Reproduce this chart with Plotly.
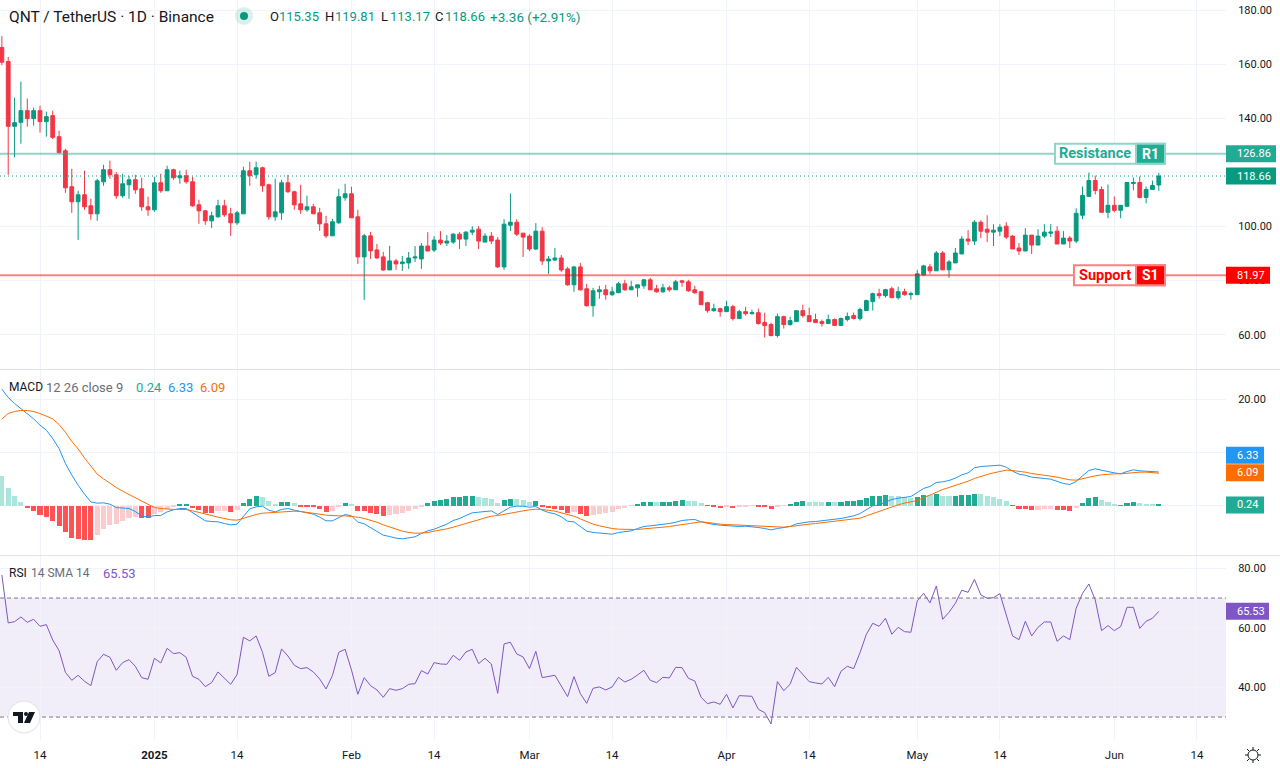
import pandas as pd
import plotly.graph_objects as go

WIDTH = 1280
HEIGHT = 768
FONT = "Roboto"

GREEN = "#089981"
RED = "#F23645"
TEAL = "#22AB94"
BLUE = "#2196F3"
ORANGE = "#FF6D00"
PURPLE = "#7E57C2"
TEXT = "#131722"
GREY = "#6A6D78"
GRID = "#F0F3FA"
SEPARATOR = "#E0E3EB"

# daily candles, 2024-12-08 to 2025-06-08 (one row per month)
opens = [
    166.17, 160.99, 137.04, 138.52, 142.84, 139.88, 142.84, 138.77, 140.99, 133.21, 128.02, 114.69, 109.14, 111.73, 107.65, 104.69, 116.54, 120.99, 119.14, 111.36, 115.43, 117.28, 113.95, 107.28,
    106.17, 116.17, 113.21, 120.99, 118.02, 118.77, 116.54, 108.02, 105.80, 102.10, 103.58, 107.65, 104.69, 101.36, 104.69, 120.62, 119.14, 121.73, 115.43, 103.58, 105.06, 116.17, 112.84, 108.40, 106.17, 107.28, 105.06, 100.99, 96.54, 101.36, 110.62,
    112.10, 103.58, 88.77, 96.54, 91.36, 88.77, 83.95, 87.28, 86.28, 86.53, 88.36, 88.00, 92.77, 91.30, 94.98, 93.88, 94.24, 97.18, 95.34, 97.92, 99.02, 94.24, 96.45, 94.98, 85.06, 100.49, 101.59, 97.55,
    96.45, 91.67, 98.29, 87.26, 87.63, 88.36, 84.32, 78.44, 85.06, 76.97, 70.72, 75.87, 76.60, 74.77, 75.50, 78.81, 76.60, 77.34, 78.07, 80.28, 76.97, 75.87, 77.34, 76.60, 79.91, 79.54, 76.60, 75.87, 71.83, 68.89, 69.62,
    68.52, 70.36, 65.95, 68.52, 67.78, 68.15, 64.48, 63.74, 59.70, 66.68, 63.74, 64.84, 68.89, 67.05, 65.58, 64.84, 64.11, 65.63, 63.43, 65.63, 67.10, 65.99, 68.93, 72.23, 75.17, 74.43, 77.00, 73.70, 75.90, 74.80,
    74.80, 82.14, 85.08, 83.61, 90.21, 83.98, 86.54, 89.85, 95.35, 94.62, 101.59, 99.02, 97.92, 98.29, 100.12, 96.45, 92.05, 90.95, 96.82, 93.15, 96.45, 97.55, 98.29, 93.52, 95.72, 94.62, 104.16, 111.13, 117.00, 113.70, 105.26,
    107.83, 105.99, 107.46, 115.90, 116.27, 110.76, 113.70, 115.35,
]
highs = [
    170.37, 162.72, 147.66, 153.58, 147.29, 143.95, 144.69, 142.47, 142.84, 135.43, 128.77, 121.36, 113.21, 120.62, 110.25, 117.65, 122.84, 124.32, 120.12, 119.51, 118.77, 119.14, 118.02, 110.99,
    118.40, 119.51, 122.47, 121.36, 120.62, 120.99, 118.40, 109.88, 106.17, 105.43, 109.88, 109.88, 106.91, 105.80, 122.10, 123.95, 123.95, 122.10, 115.80, 117.65, 117.28, 119.14, 113.21, 115.43, 111.36, 108.40, 106.91, 103.95, 102.84, 113.95, 115.80,
    114.69, 106.17, 97.28, 98.02, 93.58, 90.62, 92.84, 88.02, 89.10, 90.57, 92.77, 93.88, 97.92, 96.45, 98.29, 96.82, 97.55, 97.92, 98.29, 100.12, 100.12, 97.55, 97.92, 96.08, 102.70, 112.25, 102.70, 97.55,
    97.18, 101.23, 99.76, 89.10, 92.04, 89.47, 85.06, 85.42, 86.53, 78.81, 77.34, 78.07, 78.44, 77.71, 79.54, 80.28, 79.91, 78.44, 80.65, 81.01, 78.44, 78.81, 78.07, 80.28, 80.28, 80.28, 78.07, 76.24, 72.19, 71.46, 69.99,
    72.56, 71.09, 69.25, 70.36, 69.25, 69.62, 68.15, 64.48, 67.78, 67.05, 66.68, 68.89, 71.09, 69.99, 67.78, 65.58, 67.42, 65.99, 66.36, 68.20, 68.20, 70.03, 72.97, 75.54, 77.00, 77.00, 77.74, 77.74, 77.00, 75.90,
    83.98, 85.81, 86.18, 90.95, 90.95, 87.65, 92.05, 96.45, 98.65, 102.32, 102.32, 104.16, 100.86, 100.86, 101.59, 96.82, 93.88, 99.39, 96.82, 99.02, 100.86, 100.86, 100.12, 98.29, 96.45, 106.73, 114.80, 119.94, 118.84, 114.80, 115.53,
    111.13, 107.83, 116.27, 118.10, 118.47, 114.80, 117.00, 119.81,
]
lows = [
    159.63, 119.14, 125.56, 130.62, 136.91, 137.28, 134.69, 133.21, 132.35, 127.28, 112.47, 105.06, 95.06, 106.17, 102.47, 102.10, 115.06, 117.65, 110.25, 110.62, 110.25, 112.10, 105.80, 103.95,
    105.43, 112.47, 113.21, 117.28, 115.80, 115.80, 107.28, 100.99, 100.62, 99.51, 103.21, 103.58, 96.54, 100.62, 104.69, 115.06, 117.65, 112.84, 102.47, 102.10, 102.47, 112.47, 106.17, 104.69, 105.43, 104.69, 98.40, 95.80, 96.54, 100.99, 109.51,
    103.21, 86.17, 72.84, 88.02, 88.02, 83.58, 83.95, 83.95, 83.59, 84.32, 86.89, 84.32, 90.93, 90.57, 93.14, 92.77, 93.51, 91.67, 92.77, 96.82, 91.67, 94.24, 93.51, 84.69, 83.95, 98.29, 96.45, 88.73,
    90.93, 91.30, 85.79, 82.48, 87.26, 83.22, 78.07, 75.87, 76.24, 70.36, 66.68, 73.29, 72.93, 74.40, 75.50, 76.24, 76.60, 74.03, 76.97, 76.60, 75.50, 75.50, 75.87, 76.60, 77.71, 75.87, 75.13, 71.09, 68.15, 68.52, 66.68,
    68.52, 65.21, 65.95, 67.05, 67.42, 63.74, 58.96, 59.33, 58.96, 62.27, 63.37, 64.84, 66.31, 64.84, 64.48, 63.00, 64.11, 63.43, 63.43, 64.89, 65.63, 65.26, 68.93, 68.93, 73.33, 73.70, 73.70, 72.97, 74.43, 72.97,
    74.80, 81.77, 82.51, 83.61, 83.98, 81.04, 86.54, 89.85, 93.15, 93.15, 95.72, 94.25, 92.78, 96.45, 95.35, 91.68, 89.48, 90.95, 89.85, 93.15, 95.72, 96.09, 93.52, 93.52, 92.05, 93.88, 102.69, 111.13, 111.86, 105.26, 103.06,
    105.26, 103.06, 107.46, 113.33, 110.40, 108.56, 113.70, 113.17,
]
closes = [
    160.74, 137.04, 138.40, 142.84, 139.88, 142.84, 138.77, 140.62, 132.96, 127.28, 114.32, 109.14, 111.73, 107.28, 104.69, 116.91, 120.99, 119.14, 111.36, 115.80, 117.28, 113.58, 107.28, 106.17,
    116.17, 113.21, 120.99, 118.02, 118.77, 116.54, 107.65, 105.80, 102.10, 103.95, 107.65, 104.32, 101.36, 105.06, 120.62, 118.77, 121.73, 115.06, 103.58, 105.43, 116.17, 112.84, 108.02, 106.17, 107.28, 104.69, 100.99, 96.54, 101.73, 110.99, 112.10,
    103.21, 88.77, 96.54, 90.99, 88.40, 83.95, 87.28, 86.17, 86.89, 88.36, 88.73, 92.77, 90.93, 94.98, 93.88, 94.61, 97.18, 95.34, 97.92, 98.65, 94.61, 96.45, 94.61, 85.06, 100.86, 101.59, 97.18, 96.08,
    91.67, 98.29, 87.26, 88.00, 88.36, 83.95, 78.44, 85.06, 76.60, 70.72, 76.24, 76.60, 74.77, 75.87, 78.81, 76.60, 77.71, 78.44, 80.28, 76.60, 75.87, 77.34, 76.60, 79.54, 79.42, 76.24, 75.50, 71.09, 68.89, 69.62, 68.52,
    70.36, 65.95, 68.52, 67.78, 68.15, 64.11, 63.37, 59.70, 66.68, 63.74, 65.21, 68.89, 67.05, 64.84, 64.48, 64.11, 65.58, 63.43, 65.99, 66.73, 65.99, 69.30, 72.60, 75.17, 74.43, 76.64, 73.70, 75.90, 74.80, 75.17,
    82.51, 85.44, 83.61, 90.21, 83.98, 86.91, 90.21, 95.35, 94.62, 101.59, 98.29, 97.92, 98.65, 99.76, 96.09, 91.68, 90.95, 96.82, 93.15, 96.45, 97.92, 97.92, 93.52, 95.72, 94.62, 104.89, 111.50, 117.00, 113.33, 105.26, 107.83,
    105.99, 107.83, 116.27, 116.27, 110.76, 113.70, 115.17, 118.66,
]

macd_line = [
    21.95, 20.38, 19.25, 18.30, 17.36, 16.35, 15.16, 14.22, 12.64, 10.76, 7.93, 5.72, 3.84, 2.14, 0.69, 0.44, 0.50, 0.25, -0.38, -0.50, -0.57, -1.13, -2.01, -2.14,
    -1.89, -1.89, -1.20, -0.82, -0.57, -0.57, -1.38, -2.20, -2.89, -3.02, -3.08, -3.40, -3.65, -3.52, -2.01, -0.63, -0.25, -0.13, -0.88, -1.20, -0.75, -0.57, -0.88, -1.13, -1.32, -1.64, -2.20, -2.89, -2.89, -2.26, -1.70,
    -1.95, -3.15, -3.46, -4.15, -4.84, -5.60, -5.85, -6.16, -6.29, -6.16, -5.91, -5.28, -4.78, -4.47, -3.96, -3.52, -2.83, -2.45, -1.89, -1.38, -1.26, -1.07, -1.01, -1.70, -1.01, -0.31, -0.13, -0.13,
    -0.31, -0.19, -0.88, -1.32, -1.57, -2.14, -2.96, -3.08, -3.96, -4.84, -5.09, -5.22, -5.35, -5.41, -5.09, -4.97, -4.78, -4.34, -3.96, -3.84, -3.71, -3.59, -3.40, -3.15, -2.83, -2.70, -2.64, -3.08, -3.40, -3.59, -3.71,
    -3.84, -3.96, -3.96, -3.90, -3.96, -4.15, -4.34, -4.59, -4.34, -4.15, -3.96, -3.46, -3.21, -3.08, -3.02, -2.89, -2.70, -2.64, -2.45, -2.20, -1.95, -1.51, -0.82, -0.06, 0.13, 0.63, 1.13, 1.38, 1.57, 1.70,
    2.45, 3.21, 3.59, 4.34, 4.47, 4.72, 5.16, 5.79, 6.16, 7.11, 7.36, 7.49, 7.49, 7.61, 7.23, 6.48, 5.91, 5.72, 5.35, 5.16, 5.09, 4.97, 4.53, 4.15, 3.96, 4.53, 5.60, 6.60, 6.92, 6.60, 6.41,
    6.16, 5.98, 6.42, 6.73, 6.54, 6.48, 6.48, 6.33,
]
signal_line = [
    16.29, 17.36, 17.74, 17.93, 17.93, 17.74, 17.36, 16.92, 16.35, 15.28, 13.84, 12.08, 10.69, 8.99, 7.49, 5.91, 5.03, 4.15, 3.40, 2.70, 2.08, 1.45, 0.75, 0.13,
    -0.38, -0.57, -0.69, -0.75, -0.75, -0.75, -1.01, -1.26, -1.57, -1.89, -2.20, -2.52, -2.70, -2.77, -2.39, -2.01, -1.70, -1.45, -1.38, -1.32, -1.20, -1.07, -1.07, -1.13, -1.26, -1.38, -1.64, -1.82, -1.95, -1.95, -1.95,
    -2.01, -2.20, -2.45, -2.77, -3.15, -3.65, -4.09, -4.53, -4.84, -5.09, -5.22, -5.20, -5.10, -4.84, -4.65, -4.40, -4.09, -3.77, -3.40, -3.02, -2.70, -2.33, -2.01, -1.89, -1.64, -1.38, -1.20, -1.01,
    -0.82, -0.69, -0.75, -0.88, -1.07, -1.38, -1.70, -2.01, -2.52, -3.08, -3.52, -3.84, -4.15, -4.34, -4.47, -4.53, -4.59, -4.53, -4.40, -4.34, -4.21, -4.09, -3.96, -3.77, -3.59, -3.40, -3.21, -3.08, -3.21, -3.40, -3.52,
    -3.59, -3.65, -3.71, -3.77, -3.84, -3.90, -4.03, -4.09, -4.09, -4.09, -3.96, -3.77, -3.65, -3.52, -3.40, -3.27, -3.15, -3.02, -2.89, -2.77, -2.64, -2.39, -1.95, -1.51, -1.07, -0.63, -0.25, 0.13, 0.44, 0.69,
    0.94, 1.45, 1.95, 2.58, 3.02, 3.40, 3.77, 4.21, 4.59, 5.09, 5.54, 5.85, 6.16, 6.48, 6.67, 6.60, 6.48, 6.29, 6.04, 5.91, 5.72, 5.54, 5.35, 5.09, 4.84, 4.78, 5.09, 5.35, 5.60, 5.79, 5.91,
    5.98, 5.98, 6.10, 6.23, 6.29, 6.30, 6.25, 6.09,
]
macd_hist = [
    5.54, 3.27, 1.76, 0.63, -0.50, -1.07, -1.82, -2.20, -2.96, -3.90, -5.03, -6.16, -6.35, -6.54, -6.55, -5.60, -4.47, -3.71, -3.52, -2.96, -2.39, -2.20, -2.39, -2.45,
    -1.64, -1.26, -0.57, -0.13, 0.25, 0.27, -0.50, -0.88, -1.45, -1.46, -1.07, -1.06, -1.26, -0.88, 0.44, 1.20, 1.76, 1.57, 0.82, 0.25, 0.63, 0.64, 0.44, -0.13, -0.14, -0.31, -0.69, -1.26, -1.07, -0.31, 0.44,
    0.25, -1.07, -1.08, -1.45, -1.64, -2.01, -1.82, -1.64, -1.45, -1.07, -0.69, -0.13, 0.44, 0.88, 1.07, 1.26, 1.64, 1.65, 1.82, 1.83, 1.64, 1.45, 1.26, 0.50, 1.07, 1.26, 1.25, 1.07,
    0.69, 0.88, -0.25, -0.44, -0.63, -0.82, -1.38, -1.20, -1.57, -1.95, -1.76, -1.57, -1.38, -1.20, -0.63, -0.44, -0.06, 0.31, 0.69, 0.70, 0.69, 0.70, 0.71, 0.88, 1.07, 0.88, 0.87, 0.50, -0.06, -0.25, -0.44,
    -0.25, -0.44, -0.25, -0.24, -0.06, -0.25, -0.26, -0.63, -0.25, -0.06, 0.31, 0.69, 0.88, 0.69, 0.68, 0.67, 0.70, 0.69, 0.70, 0.88, 0.89, 1.07, 1.45, 1.82, 1.83, 2.01, 1.82, 1.81, 1.64, 1.45,
    1.64, 2.01, 2.00, 2.20, 1.82, 1.81, 1.83, 2.01, 2.02, 2.20, 2.19, 1.82, 1.64, 1.26, 0.88, -0.06, -0.63, -0.64, -0.82, -0.81, -0.63, -0.62, -0.82, -0.83, -1.01, -0.44, 0.50, 1.45, 1.64, 1.07, 0.69,
    0.31, -0.06, 0.50, 0.69, 0.50, 0.35, 0.22, 0.24,
]
rsi = [
    77.76, 61.63, 62.07, 63.64, 61.85, 62.86, 60.50, 61.07, 55.91, 52.33, 45.04, 42.35, 44.04, 42.02, 40.56, 48.63, 51.09, 50.09, 45.72, 48.29, 49.30, 47.06, 43.25, 42.69,
    49.75, 48.18, 53.11, 51.32, 51.65, 50.09, 43.70, 42.69, 40.23, 41.57, 45.16, 43.03, 41.01, 44.26, 56.81, 55.58, 57.26, 51.77, 43.70, 44.93, 52.89, 50.53, 47.40, 46.28, 46.61, 45.16, 42.80, 39.44, 43.92, 51.77, 52.77,
    45.83, 37.65, 43.25, 40.56, 39.11, 36.64, 39.55, 38.99, 39.55, 41.01, 41.23, 45.60, 44.48, 48.29, 47.84, 47.73, 50.76, 49.08, 51.88, 52.77, 47.96, 49.75, 47.84, 37.98, 54.57, 55.13, 51.21, 50.20,
    46.28, 52.10, 43.25, 43.59, 44.04, 40.45, 36.86, 43.59, 37.87, 34.62, 39.67, 40.11, 39.11, 40.11, 43.36, 41.79, 42.69, 44.15, 45.72, 42.35, 41.57, 43.36, 43.14, 46.72, 46.61, 43.03, 42.13, 36.64, 34.51, 35.07, 34.29,
    37.65, 33.06, 37.20, 37.09, 36.98, 32.61, 31.49, 27.68, 41.91, 38.88, 41.01, 46.72, 44.48, 41.91, 41.46, 41.12, 43.36, 40.23, 45.38, 47.06, 46.28, 51.65, 57.82, 61.51, 60.50, 63.19, 57.82, 60.17, 58.71, 58.49,
    69.02, 71.60, 68.35, 74.06, 62.86, 65.21, 68.24, 72.61, 71.93, 76.30, 71.04, 69.92, 70.14, 71.48, 64.31, 57.26, 56.02, 62.19, 57.26, 60.17, 61.96, 61.96, 55.46, 57.26, 56.02, 66.55, 71.60, 74.73, 69.36, 59.05, 60.73,
    59.05, 60.39, 66.89, 66.89, 59.83, 62.19, 63.19, 65.53,
]

dates = pd.date_range("2024-12-08", periods=len(closes), freq="D")

time_ticks = ["2024-12-14", "2025-01-01", "2025-01-14", "2025-02-01", "2025-02-14", "2025-03-01", "2025-03-14",
              "2025-04-01", "2025-04-14", "2025-05-01", "2025-05-14", "2025-06-01", "2025-06-14"]
time_labels = ["14", "<b>2025</b>", "14", "Feb", "14", "Mar", "14", "Apr", "14", "May", "14", "Jun", "14"]
price_ticks = [60, 80, 100, 120, 140, 160, 180]
price_labels = ["60.00", "80.00", "100.00", "", "140.00", "160.00", "180.00"]
macd_ticks = [0, 10, 20]
macd_labels = ["", "", "20.00"]
rsi_ticks = [40, 60, 80]
rsi_labels = ["40.00", "60.00", "80.00"]

resistance = 126.86
support = 81.97
last_close = 118.66

# pane edges in pixels, top to bottom
PLOT_RIGHT = 1226
PANES = {"y": (0, 369), "y2": (370, 555), "y3": (556, 740)}


def px(x):
    return x / WIDTH


def py(y):
    return 1 - y / HEIGHT


def hist_colors(values):
    colors = []
    prev = None
    for v in values:
        rising = prev is not None and v > prev
        if v >= 0:
            colors.append(TEAL if rising else "#ACE5DC")
        else:
            colors.append("#FCCBCD" if rising else "#FF5252")
        prev = v
    return colors


def label(text, x, y, size=13, color=TEXT):
    # annotations sit about 2px right of the given x
    fig.add_annotation(text=text, x=px(x - 2), y=py(y), xref="paper", yref="paper", xanchor="left", yanchor="middle",
                       showarrow=False, font=dict(family=FONT, size=size, color=color), align="left")


def axis_tag(text, value, yref, color, right, y_pos=None):
    y_pos = value if y_pos is None else y_pos
    fig.add_shape(type="rect", xref="paper", yref=yref, x0=px(PLOT_RIGHT), x1=px(right), ysizemode="pixel",
                  yanchor=y_pos, y0=-8.5, y1=8.5, fillcolor=color, line_width=0)
    fig.add_annotation(text=text, x=px(1235), y=y_pos, xref="paper", yref=yref, xanchor="left", yanchor="middle",
                       showarrow=False, font=dict(family=FONT, size=11, color="white"))


def level_badge(name, code, value, left, color, line_color):
    fig.add_shape(type="rect", xref="paper", yref="y", x0=px(left), x1=px(1165), ysizemode="pixel", yanchor=value,
                  y0=-10, y1=10, fillcolor="white", line=dict(color=line_color, width=2))
    fig.add_shape(type="rect", xref="paper", yref="y", x0=px(1136), x1=px(1165), ysizemode="pixel", yanchor=value,
                  y0=-10, y1=10, fillcolor=color, line=dict(color=line_color, width=2))
    fig.add_annotation(text=f"<b>{name}</b>", x=px(1133), y=value, xref="paper", yref="y", xanchor="right",
                       yanchor="middle", showarrow=False, font=dict(family=FONT, size=14.5, color=color))
    fig.add_annotation(text=f"<b>{code}</b>", x=px(1150.5), y=value, xref="paper", yref="y", xanchor="center",
                       yanchor="middle", showarrow=False, font=dict(family=FONT, size=14, color="white"))


fig = go.Figure()

fig.add_trace(go.Candlestick(
    x=dates, open=opens, high=highs, low=lows, close=closes, xaxis="x", yaxis="y", whiskerwidth=0,
    increasing=dict(line=dict(color=GREEN, width=1), fillcolor=GREEN),
    decreasing=dict(line=dict(color=RED, width=1), fillcolor=RED),
))
fig.add_trace(go.Bar(x=dates, y=macd_hist, xaxis="x2", yaxis="y2", width=0.8 * 86400000,
                     marker=dict(color=hist_colors(macd_hist), line_width=0)))
fig.add_trace(go.Scatter(x=dates, y=macd_line, xaxis="x2", yaxis="y2", mode="lines", line=dict(color=BLUE, width=1)))
fig.add_trace(go.Scatter(x=dates, y=signal_line, xaxis="x2", yaxis="y2", mode="lines", line=dict(color=ORANGE, width=1)))
fig.add_trace(go.Scatter(x=dates, y=rsi, xaxis="x3", yaxis="y3", mode="lines", line=dict(color=PURPLE, width=1)))

x_range = ["2024-12-07 17:00", "2025-06-18 13:40"]
x_common = dict(range=x_range, type="date", tickmode="array", tickvals=time_ticks, ticktext=time_labels, showgrid=True,
                gridcolor=GRID, gridwidth=1, zeroline=False, showline=False, domain=[0, px(PLOT_RIGHT)],
                rangeslider=dict(visible=False), showticklabels=False, ticks="")
y_common = dict(side="right", anchor="free", position=px(PLOT_RIGHT), showgrid=True, gridcolor=GRID, gridwidth=1,
                zeroline=False, showline=False, tickmode="array", ticks="outside", ticklen=9,
                tickcolor="rgba(0,0,0,0)", tickfont=dict(family=FONT, size=11, color=TEXT))

fig.update_layout(
    width=WIDTH, height=HEIGHT, autosize=False, margin=dict(l=0, r=0, t=0, b=0), showlegend=False,
    paper_bgcolor="white", plot_bgcolor="white", barmode="overlay", bargap=0, boxgap=0.15, boxgroupgap=0.3,
    font=dict(family=FONT, color=TEXT), hovermode=False,
    xaxis=dict(**x_common, anchor="y"),
    xaxis2=dict(**x_common, anchor="y2", matches="x"),
    xaxis3={**x_common, "anchor": "y3", "matches": "x", "showticklabels": True, "ticks": "outside", "ticklen": 4,
            "tickcolor": "rgba(0,0,0,0)", "tickfont": dict(family=FONT, size=11.5, color=TEXT)},
    yaxis=dict(**y_common, domain=[py(PANES["y"][1]), py(PANES["y"][0])], range=[47.32, 183.74],
               tickvals=price_ticks, ticktext=price_labels),
    yaxis2=dict(**y_common, domain=[py(PANES["y2"][1]), py(PANES["y2"][0])], range=[-9.34, 25.57],
                tickvals=macd_ticks, ticktext=macd_labels),
    yaxis3=dict(**y_common, domain=[py(PANES["y3"][1]), py(PANES["y3"][0])], range=[22.29, 84.13],
                tickvals=rsi_ticks, ticktext=rsi_labels),
)

# RSI band
fig.add_shape(type="rect", xref="x3 domain", yref="y3", x0=0, x1=1, y0=30, y1=70, fillcolor="rgba(126,87,194,0.1)",
              line_width=0, layer="below")
for level in (30, 70):
    fig.add_shape(type="line", xref="x3 domain", yref="y3", x0=0, x1=1, y0=level, y1=level,
                  line=dict(color="#787B86", width=1, dash="4px,3px"))

# level lines
fig.add_shape(type="line", xref="x domain", yref="y", x0=0, x1=1, y0=resistance, y1=resistance,
              line=dict(color="rgba(34,171,148,0.5)", width=2))
fig.add_shape(type="line", xref="x domain", yref="y", x0=0, x1=1, y0=support, y1=support,
              line=dict(color="rgba(255,0,0,0.5)", width=2))
fig.add_shape(type="line", xref="x domain", yref="y", x0=0, x1=1, y0=last_close, y1=last_close,
              line=dict(color=GREEN, width=1, dash="1px,3px"))

# pane separators
for sep in (369.5, 555.5):
    fig.add_shape(type="line", xref="paper", yref="paper", x0=0, x1=1, y0=py(sep), y1=py(sep),
                  line=dict(color=SEPARATOR, width=1))

level_badge("Resistance", "R1", resistance, 1055, TEAL, "#91D5C9")
level_badge("Support", "S1", support, 1074, "#FF0000", "#FF8080")

axis_tag(f"{resistance:.2f}", resistance, "y", TEAL, 1276)
axis_tag(f"{last_close:.2f}", last_close, "y", GREEN, 1276)
axis_tag(f"{support:.2f}", support, "y", "#FF0000", 1270)
axis_tag("6.33", 6.33, "y2", BLUE, 1264, y_pos=9.5)
axis_tag("6.09", 6.09, "y2", ORANGE, 1264, y_pos=6.2)
axis_tag("0.24", 0.24, "y2", TEAL, 1264, y_pos=0.1)
axis_tag("65.53", 65.53, "y3", PURPLE, 1269)

# header
label("QNT / TetherUS · 1D · Binance", 9, 17, size=15.5)
fig.add_shape(type="circle", xref="paper", yref="paper", xsizemode="pixel", ysizemode="pixel", xanchor=px(244),
              yanchor=py(16), x0=-9, x1=9, y0=-9, y1=9, fillcolor="rgba(8,153,129,0.15)", line_width=0)
fig.add_shape(type="circle", xref="paper", yref="paper", xsizemode="pixel", ysizemode="pixel", xanchor=px(244),
              yanchor=py(16), x0=-4, x1=4, y0=-4, y1=4, fillcolor=GREEN, line_width=0)

label("O", 270, 17)
label("115.35", 279, 17, color=GREEN)
label("H", 325, 17)
label("119.81", 335, 17, color=GREEN)
label("L", 381, 17)
label("113.17", 390, 17, color=GREEN)
label("C", 435, 17)
label("118.66", 445, 17, color=GREEN)
label("+3.36 (+2.91%)", 490, 17, size=13.5, color=GREEN)

label("MACD", 9, 387, size=12)
label("12 26 close 9", 46, 387, size=13, color=GREY)
label("0.24", 136, 387, color=TEAL)
label("6.33", 168, 387, color=BLUE)
label("6.09", 200, 387, color=ORANGE)

label("RSI", 9, 573, size=12)
label("14 SMA 14", 31, 573, size=12, color=GREY)
label("65.53", 103, 573, color=PURPLE)

# TradingView mark, bottom left
fig.add_shape(type="circle", xref="paper", yref="paper", xsizemode="pixel", ysizemode="pixel", xanchor=px(24),
              yanchor=py(717), x0=-16, x1=16, y0=-16, y1=16, fillcolor="white", line=dict(color=SEPARATOR, width=1))
fig.add_shape(type="path", xref="paper", yref="paper", xsizemode="pixel", ysizemode="pixel", xanchor=px(24),
              yanchor=py(717), fillcolor="#131722", line_width=0,
              path="M -11 5 L -1 5 L -1 -6 L -6 -6 L -6 1 L -11 1 Z M 5 5 L 11 5 L 6 -6 L 0 -6 Z")
fig.add_shape(type="circle", xref="paper", yref="paper", xsizemode="pixel", ysizemode="pixel", xanchor=px(24),
              yanchor=py(717), x0=0, x1=4, y0=1, y1=5, fillcolor="#131722", line_width=0)

# settings icon, bottom right
fig.add_shape(type="circle", xref="paper", yref="paper", xsizemode="pixel", ysizemode="pixel", xanchor=px(1253),
              yanchor=py(755), x0=-5, x1=5, y0=-5, y1=5, fillcolor="white", line=dict(color=TEXT, width=1))
fig.add_shape(type="path", xref="paper", yref="paper", xsizemode="pixel", ysizemode="pixel", xanchor=px(1253),
              yanchor=py(755), line=dict(color=TEXT, width=1),
              path="M 0 5 L 0 8 M 0 -5 L 0 -8 M 5 0 L 8 0 M -5 0 L -8 0 M 4 4 L 6 6 M -4 4 L -6 6 M 4 -4 L 6 -6 M -4 -4 L -6 -6")

# the browser's default body margin would push the 1280x768 figure off the window
fig.write_html("out.html", config=dict(displayModeBar=False), post_script="document.body.style.margin = '0';")
